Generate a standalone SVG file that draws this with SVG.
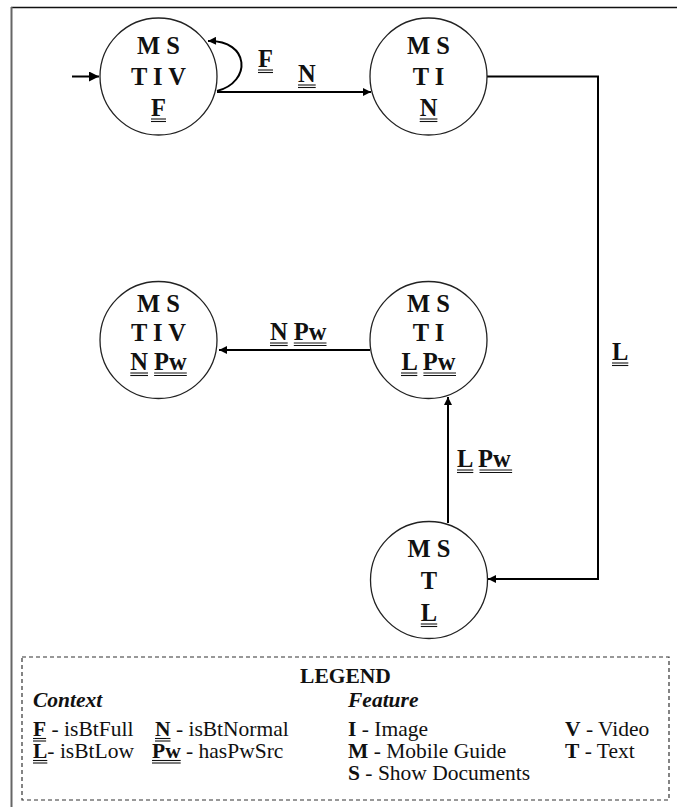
<svg xmlns="http://www.w3.org/2000/svg" width="677" height="807" viewBox="0 0 677 807">
<defs>
<marker id="ah" viewBox="0 0 10 10" refX="10" refY="5" markerWidth="9" markerHeight="8" markerUnits="userSpaceOnUse" orient="auto"><path d="M0,0 L10,5 L0,10 z" fill="#000"/></marker>
<marker id="ah2" viewBox="0 0 10 10" refX="10" refY="5" markerWidth="11" markerHeight="10" markerUnits="userSpaceOnUse" orient="auto"><path d="M0,0 L10,5 L0,10 z" fill="#000"/></marker>
</defs>
<style>
.st{fill:#fff;stroke:#222;stroke-width:1.3}
.nt{font-family:'Liberation Serif','Times New Roman',serif;font-weight:bold;font-size:24.5px;text-anchor:middle;fill:#111}
.lb{font-family:'Liberation Serif','Times New Roman',serif;font-weight:bold;font-size:24.5px;fill:#111}
.ul{stroke:#111;stroke-width:1.1}
.cn{fill:none;stroke:#000;stroke-width:2}
.lg{font-family:'Liberation Serif','Times New Roman',serif;font-size:21.5px;fill:#111}
.b{font-weight:bold}
.bi{font-weight:bold;font-style:italic}
</style>
<rect width="677" height="807" fill="#fff"/>
<line x1="11" y1="7.5" x2="677" y2="7.5" stroke="#111" stroke-width="1.5"/>
<line x1="11.5" y1="7" x2="11.5" y2="807" stroke="#666" stroke-width="2"/>

<g id="connectors">
<path class="cn" d="M72,76.5 H99" stroke-width="3" marker-end="url(#ah2)"/>
<path class="cn" d="M217,91 C252,82 250,40 208,41" marker-end="url(#ah)"/>
<path class="cn" d="M217,92 H371" marker-end="url(#ah)"/>
<path class="cn" d="M487,76.5 H598 V579 H488" marker-end="url(#ah)"/>
<path class="cn" d="M370,350 H219" marker-end="url(#ah)"/>
<path class="cn" d="M448,523 V397" marker-end="url(#ah)"/>
<text class="lb" x="258" y="67">F</text>
<line class="ul" x1="258" y1="70" x2="273" y2="70"/><line class="ul" x1="258" y1="72.5" x2="273" y2="72.5"/>
<text class="lb" x="298" y="82">N</text>
<line class="ul" x1="298" y1="85" x2="315.7" y2="85"/><line class="ul" x1="298" y1="87.5" x2="315.7" y2="87.5"/>
<text class="lb" x="612" y="360">L</text>
<line class="ul" x1="612" y1="363" x2="628.3" y2="363"/><line class="ul" x1="612" y1="365.5" x2="628.3" y2="365.5"/>
<text class="lb" x="270" y="340" xml:space="preserve">N Pw</text>
<line class="ul" x1="270" y1="343" x2="287.7" y2="343"/><line class="ul" x1="270" y1="345.5" x2="287.7" y2="345.5"/>
<line class="ul" x1="293.8" y1="343" x2="326.5" y2="343"/><line class="ul" x1="293.8" y1="345.5" x2="326.5" y2="345.5"/>
<text class="lb" x="457" y="467" xml:space="preserve">L Pw</text>
<line class="ul" x1="457" y1="470" x2="473.3" y2="470"/><line class="ul" x1="457" y1="472.5" x2="473.3" y2="472.5"/>
<line class="ul" x1="479.5" y1="470" x2="512.1" y2="470"/><line class="ul" x1="479.5" y1="472.5" x2="512.1" y2="472.5"/>
</g>

<g id="n1">
<circle class="st" cx="158.5" cy="76.5" r="58.5"/>
<text class="nt" x="158.5" y="54">M S</text>
<text class="nt" x="158.5" y="85">T I V</text>
<text class="nt" x="158.5" y="116">F</text>
<line class="ul" x1="151" y1="119" x2="166" y2="119"/><line class="ul" x1="151" y1="121.5" x2="166" y2="121.5"/>
</g>
<g id="n2">
<circle class="st" cx="428.5" cy="76.5" r="58.5"/>
<text class="nt" x="428.5" y="54">M S</text>
<text class="nt" x="428.5" y="85">T I</text>
<text class="nt" x="428.5" y="116">N</text>
<line class="ul" x1="419.7" y1="119" x2="437.4" y2="119"/><line class="ul" x1="419.7" y1="121.5" x2="437.4" y2="121.5"/>
</g>
<g id="n3">
<circle class="st" cx="158.5" cy="340" r="58.5"/>
<text class="nt" x="158.5" y="312">M S</text>
<text class="nt" x="158.5" y="341">T I V</text>
<text class="nt" x="158.5" y="370">N Pw</text>
<line class="ul" x1="130.3" y1="373" x2="148" y2="373"/><line class="ul" x1="130.3" y1="375.5" x2="148" y2="375.5"/>
<line class="ul" x1="154.1" y1="373" x2="186.8" y2="373"/><line class="ul" x1="154.1" y1="375.5" x2="186.8" y2="375.5"/>
</g>
<g id="n4">
<circle class="st" cx="428.5" cy="340" r="58.5"/>
<text class="nt" x="428.5" y="312">M S</text>
<text class="nt" x="428.5" y="341">T I</text>
<text class="nt" x="428.5" y="370">L Pw</text>
<line class="ul" x1="401" y1="373" x2="417.3" y2="373"/><line class="ul" x1="401" y1="375.5" x2="417.3" y2="375.5"/>
<line class="ul" x1="423.4" y1="373" x2="456" y2="373"/><line class="ul" x1="423.4" y1="375.5" x2="456" y2="375.5"/>
</g>
<g id="n5">
<circle class="st" cx="429" cy="580" r="58.5"/>
<text class="nt" x="429" y="557">M S</text>
<text class="nt" x="429" y="589">T</text>
<text class="nt" x="429" y="621">L</text>
<line class="ul" x1="420.8" y1="624" x2="437.2" y2="624"/><line class="ul" x1="420.8" y1="626.5" x2="437.2" y2="626.5"/>
</g>

<g id="legend">
<rect x="22" y="657" width="647" height="143" fill="none" stroke="#333" stroke-width="1.2" stroke-dasharray="4,3"/>
<text class="lg b" x="345.5" y="683" text-anchor="middle">LEGEND</text>
<text class="lg bi" x="33" y="707">Context</text>
<text class="lg bi" x="348" y="707">Feature</text>
<text class="lg" x="33" y="736"><tspan class="b">F</tspan> - isBtFull</text>
<line class="ul" x1="33" y1="738.5" x2="46.1" y2="738.5"/><line class="ul" x1="33" y1="741" x2="46.1" y2="741"/>
<text class="lg" x="155" y="736"><tspan class="b">N</tspan> - isBtNormal</text>
<line class="ul" x1="155" y1="738.5" x2="170.5" y2="738.5"/><line class="ul" x1="155" y1="741" x2="170.5" y2="741"/>
<text class="lg" x="33" y="758"><tspan class="b">L</tspan>- isBtLow</text>
<line class="ul" x1="33" y1="760.5" x2="47.3" y2="760.5"/><line class="ul" x1="33" y1="763" x2="47.3" y2="763"/>
<text class="lg" x="152" y="758"><tspan class="b">Pw</tspan> - hasPwSrc</text>
<line class="ul" x1="152" y1="760.5" x2="180.7" y2="760.5"/><line class="ul" x1="152" y1="763" x2="180.7" y2="763"/>
<text class="lg" x="348" y="736"><tspan class="b">I</tspan> - Image</text>
<text class="lg" x="348" y="758"><tspan class="b">M</tspan> - Mobile Guide</text>
<text class="lg" x="348" y="780"><tspan class="b">S</tspan> - Show Documents</text>
<text class="lg" x="565" y="736"><tspan class="b">V</tspan> - Video</text>
<text class="lg" x="565" y="758"><tspan class="b">T</tspan> - Text</text>
</g>
</svg>
